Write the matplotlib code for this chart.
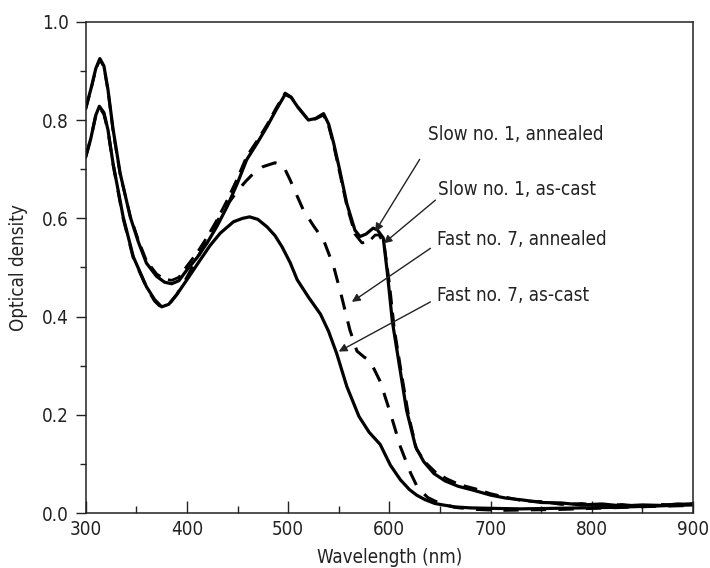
import matplotlib
matplotlib.use("Agg")
import matplotlib.pyplot as plt
from matplotlib.ticker import MultipleLocator

plt.rcParams['font.family'] = ['DejaVu Sans']
plt.rcParams['font.stretch'] = 'condensed'
plt.rcParams['font.size'] = 13.5

ink = '#222222'

# Slow no. 1, annealed
sa_wl = [300, 305, 310, 314, 318, 322, 327, 334, 344, 352, 360, 370, 378, 385, 392, 400, 410,
         420, 430, 440, 450, 459, 470, 479, 488, 497, 503, 510, 520, 527, 535, 540, 545, 551,
         558, 566, 571, 577, 584, 588, 594, 598, 603, 610, 617, 626, 634, 644, 655, 668, 683,
         700, 715, 732, 750, 770, 790, 810, 830, 850, 870, 885, 900]
sa_od = [0.824, 0.862, 0.905, 0.925, 0.91, 0.862, 0.782, 0.692, 0.603, 0.552, 0.509, 0.482,
         0.47, 0.467, 0.473, 0.495, 0.52, 0.55, 0.585, 0.625, 0.672, 0.719, 0.755, 0.786,
         0.82, 0.852, 0.846, 0.825, 0.80, 0.803, 0.813, 0.792, 0.753, 0.698, 0.63, 0.576,
         0.563, 0.568, 0.58, 0.577, 0.56, 0.49, 0.39, 0.30, 0.21, 0.135, 0.105, 0.081, 0.066,
         0.055, 0.047, 0.037, 0.031, 0.027, 0.022, 0.021, 0.017, 0.019, 0.015, 0.017, 0.016,
         0.019, 0.018]

# Slow no. 1, as-cast
sc_wl = [300, 305, 310, 314, 318, 322, 327, 334, 344, 352, 360, 370, 378, 385, 392, 400, 410,
         420, 430, 440, 450, 459, 470, 479, 488, 497, 503, 510, 520, 527, 535, 540, 545, 551,
         558, 566, 573, 580, 586, 590, 595, 600, 605, 612, 619, 627, 636, 646, 657, 670, 685,
         700, 715, 732, 750, 770, 790, 810, 830, 850, 870, 885, 900]
sc_od = [0.822, 0.86, 0.903, 0.923, 0.908, 0.86, 0.778, 0.69, 0.605, 0.556, 0.514, 0.487,
         0.476, 0.474, 0.48, 0.503, 0.53, 0.562, 0.598, 0.638, 0.682, 0.726, 0.76, 0.79,
         0.824, 0.855, 0.847, 0.826, 0.80, 0.802, 0.81, 0.788, 0.748, 0.692, 0.625, 0.568,
         0.55, 0.553, 0.566, 0.566, 0.545, 0.47, 0.375, 0.285, 0.2, 0.13, 0.103, 0.083, 0.07,
         0.058, 0.05, 0.04, 0.033, 0.025, 0.024, 0.018, 0.02, 0.016, 0.018, 0.014, 0.018,
         0.017, 0.02]

# Fast no. 7, annealed
fa_wl = [300, 305, 310, 313.5, 318, 322, 327, 337, 347, 360, 368, 375, 382, 390, 400, 410,
         420, 430, 440, 450, 458, 466, 475, 487, 495, 502, 509, 515, 525, 535, 545, 552, 561,
         568, 575, 581, 591, 601, 611, 621, 628, 638, 650, 665, 685, 710, 740, 770, 800, 830,
         860, 900]
fa_od = [0.725, 0.762, 0.81, 0.826, 0.812, 0.778, 0.71, 0.6, 0.52, 0.46, 0.432, 0.418, 0.424,
         0.445, 0.48, 0.518, 0.556, 0.594, 0.628, 0.656, 0.675, 0.692, 0.705, 0.713, 0.708,
         0.678, 0.645, 0.617, 0.585, 0.556, 0.502, 0.448, 0.373, 0.33, 0.318, 0.31, 0.268,
         0.204, 0.135, 0.082, 0.052, 0.032, 0.02, 0.012, 0.008, 0.006, 0.007, 0.008, 0.01,
         0.012, 0.014, 0.016]

# Fast no. 7, as-cast
fc_wl = [300, 305, 310, 313.5, 318, 322, 327, 337, 347, 360, 368, 375, 382, 390, 400, 413,
         423, 433, 446, 455, 462, 470, 479, 487, 494, 502, 509, 520, 532, 540, 548, 558, 570,
         580, 591, 601, 611, 620, 627, 635, 645, 653, 665, 680, 703, 730, 760, 790, 820, 850,
         880, 900]
fc_od = [0.725, 0.762, 0.81, 0.828, 0.815, 0.78, 0.712, 0.603, 0.522, 0.461, 0.435, 0.42,
         0.425, 0.445, 0.475, 0.515, 0.545, 0.57, 0.593, 0.6, 0.603, 0.598, 0.583, 0.565,
         0.542, 0.51, 0.475, 0.44, 0.405, 0.37, 0.325, 0.258, 0.197, 0.165, 0.14, 0.098,
         0.068, 0.048, 0.037, 0.028, 0.02, 0.017, 0.013, 0.011, 0.010, 0.009, 0.010, 0.011,
         0.012, 0.014, 0.016, 0.017]

labels = ['Slow no. 1, annealed', 'Slow no. 1, as-cast', 'Fast no. 7, annealed', 'Fast no. 7, as-cast']
label_xy = [(638, 0.770), (648, 0.658), (647, 0.556), (647, 0.444)]
arrow_from = [(630, 0.720), (645.5, 0.637), (640.6, 0.539), (640.6, 0.430)]
arrow_to = [(586, 0.573), (594.4, 0.549), (563, 0.430), (550, 0.329)]

fig = plt.figure(figsize=(7.1, 5.68), dpi=100)
ax = fig.add_axes([0.1207, 0.0963, 0.8553, 0.8655])

ax.plot(sa_wl, sa_od, color='black', lw=2.3, solid_joinstyle='round')
ax.plot(sc_wl, sc_od, color='black', lw=2.0, dashes=(5, 3))
ax.plot(fa_wl, fa_od, color='black', lw=2.2, dashes=(5, 4))
ax.plot(fc_wl, fc_od, color='black', lw=2.3, solid_joinstyle='round')

for lab, xy, a, b in zip(labels, label_xy, arrow_from, arrow_to):
    ax.text(xy[0], xy[1], lab, ha='left', va='center', color=ink)
    ax.annotate('', xy=b, xytext=a,
                arrowprops=dict(arrowstyle='-|>', color=ink, lw=1.0,
                                mutation_scale=12, shrinkA=0, shrinkB=0))

ax.set_xlim(300, 900)
ax.set_ylim(0, 1.0)
ax.xaxis.set_major_locator(MultipleLocator(100))
ax.xaxis.set_minor_locator(MultipleLocator(50))
ax.yaxis.set_major_locator(MultipleLocator(0.2))
ax.yaxis.set_minor_locator(MultipleLocator(0.1))
ax.yaxis.set_major_formatter(plt.FormatStrFormatter('%.1f'))

ax.tick_params(axis='x', which='major', direction='in', length=9, width=1.0, colors=ink,
               labelsize=13.5, pad=5)
ax.tick_params(axis='x', which='minor', direction='in', length=5, width=1.0, colors=ink)
ax.tick_params(axis='y', which='major', direction='out', length=7, width=1.0, colors=ink,
               labelsize=13.5, pad=5)
ax.tick_params(axis='y', which='minor', direction='out', length=4, width=1.0, colors=ink)
for s in ax.spines.values():
    s.set_color(ink)
    s.set_linewidth(1.1)

ax.set_xlabel('Wavelength (nm)', color=ink, labelpad=6)
ax.set_ylabel('Optical density', color=ink, labelpad=10)

fig.savefig('out.png', dpi=100)
